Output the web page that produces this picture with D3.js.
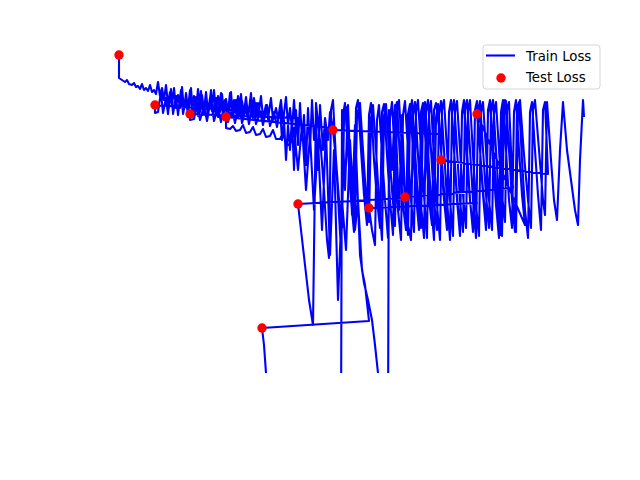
<!DOCTYPE html>
<html>
<head>
<meta charset="utf-8">
<script src="https://cdn.jsdelivr.net/npm/d3@7"></script>
<style>
body{margin:0;background:#fff;}
svg{display:block;font-family:"DejaVu Sans",sans-serif;}
</style>
</head>
<body>
<svg class="chart"></svg>
<script>
// test loss, one point per epoch start (x in iterations)
const testStep=[0,360,710,1070,1430,1790,2140,2500,2860,3220,3580];
const testLoss=[4.45,3.95,3.86,3.83,1.72,2.96,3.70,2.92,3.03,3.40,3.86];

// train loss runs, [iteration, loss]
const train0=[[0,4.45],[0,4.22],[30,4.20],[60,4.18],[80,4.20],[100,4.16],[130,4.15],[150,4.17],[170,4.13],[190,4.14],[210,4.11],[230,4.16],[250,4.10],[270,4.12],[290,4.09],[310,4.15],[330,4.08],[350,4.10],
[370,4.06],[390,4.18],[410,4.04],[430,4.12],[450,4.00],[470,4.15],[490,3.96],[510,4.08],[530,3.94],[550,4.12],[570,3.92],[590,4.05],[610,3.92],[630,4.13],[650,3.90],[670,4.07],[690,3.91],[710,4.10],[730,3.89],[750,4.04],[770,3.90],[790,4.11],[810,3.88],[830,4.05],[850,3.89],[870,4.08],[890,3.88],[910,4.02],[930,3.89],[950,4.10],[970,3.87],[990,4.04],[1010,3.88],[1030,4.06],[1050,3.87],[1070,4.01],[1090,3.88],[1110,4.07],[1130,3.86],[1150,4.00],[1170,3.87],[1190,4.04],[1210,3.86],[1230,3.99],[1250,3.87],[1270,4.03],[1290,3.85],[1310,3.98],[1330,3.86],[1350,4.02],[1370,3.85],[1390,3.97],[1410,3.86],[1430,3.88]];
const train1=[[360,3.95],[360,3.87],[390,3.88],[420,4.08],[440,3.87],[470,4.02],[490,3.86],[520,4.11],[540,3.86],[570,4.04],[590,3.85],[620,4.10],[640,3.86],[670,4.01],[690,3.85],[720,4.12],[740,3.85],[770,4.03],[790,3.84],[820,4.09],[840,3.85],[870,4.00],[890,3.84],[920,4.10],[940,3.84],[970,4.02],[990,3.83],[1020,4.07],[1040,3.84],[1070,3.99],[1090,3.83],[1120,4.08],[1140,3.83],[1170,4.00],[1190,3.82],[1220,4.06],[1240,3.83],[1270,3.99],[1290,3.82],[1320,4.07],[1340,3.82],[1370,3.97],[1390,3.81],[1420,4.04],[1440,3.82],[1470,3.95],[1490,3.81],[1520,4.02],[1540,3.80],[1570,3.92],[1590,3.81],[1620,4.00],[1640,3.78],[1670,4.03],[1690,3.75],[1710,3.92],[1730,3.70],[1750,4.00],[1770,3.72],[1790,3.82]];
const train2=[[710,3.86],[710,3.80],[750,3.81],[780,3.98],[810,3.80],[850,3.94],[880,3.79],[920,4.02],[950,3.79],[990,3.93],[1020,3.78],[1060,4.00],[1090,3.78],[1130,3.92],[1160,3.77],[1200,3.99],[1230,3.77],[1270,3.91],[1300,3.76],[1340,3.97],[1370,3.76],[1410,3.89],[1440,3.75],[1480,3.95],[1510,3.74],[1550,3.88],[1580,3.73],[1610,3.94],[1630,3.60],[1650,3.80],[1670,3.40],[1690,3.75],[1710,3.50],[1730,3.82],[1750,3.30],[1770,3.90],[1790,3.55],[1810,3.97],[1830,3.60],[1850,3.85],[1870,3.35],[1890,3.92],[1910,3.50],[1930,4.00],[1950,3.60],[1970,3.80],[1990,3.30],[2010,3.95],[2040,3.50],[2060,3.82],[2090,3.60],[2110,3.88],[2140,3.72]];
const train3=[[1070,3.83],[1070,3.72],[1110,3.71],[1140,3.74],[1170,3.69],[1210,3.70],[1240,3.75],[1270,3.67],[1310,3.68],[1340,3.73],[1370,3.65],[1410,3.66],[1440,3.71],[1470,3.63],[1510,3.64],[1540,3.70],[1570,3.61],[1610,3.61],[1640,3.67],[1670,3.57],[1710,3.54],[1750,3.72],[1790,3.30],[1830,3.75],[1870,3.10],[1910,3.65],[1950,2.90],[1990,3.60],[2030,2.70],[2070,3.70],[2110,2.45],[2150,3.50],[2190,2.00],[2230,3.00],[2270,2.50],[2310,3.60],[2360,2.70],[2390,3.00],[2430,2.30],[2460,2.15],[2500,1.79]];
const train4=[[1430,1.72],[1450,1.55],[1470,1.27],[1510,0.80],[1810,0.60],[2220,0.70],[2230,3.90],[2260,3.10],[2290,3.95],[2330,2.85],[2360,3.75],[2410,2.45],[2450,2.17],[2490,2.00],[2530,1.80],[2560,1.55],[2590,1.27],[2630,0.80],[2690,0.70],[2700,3.90],[2730,3.30],[2760,3.95],[2800,2.90],[2830,3.85],[2860,3.02]];
const train5=[[1790,2.96],[1820,2.70],[1860,2.35],[1900,2.00],[1940,1.75],[1970,3.97],[2020,3.50],[2050,3.10],[2080,2.60],[2100,2.42],[2120,3.90],[2140,4.00],[2170,3.40],[2200,2.85],[2220,2.50],[2240,3.85],[2260,3.97],[2290,3.50],[2320,3.00],[2350,2.68],[2370,3.92],[2390,4.00],[2420,3.50],[2450,3.05],[2480,2.75],[2500,3.85],[2520,3.97],[2550,3.40],[2580,3.00],[2610,2.72],[2630,3.88],[2650,3.96],[2680,3.45],[2710,3.00],[2740,2.65],[2760,3.90],[2780,3.98],[2810,3.40],[2840,2.95],[2870,2.70],[2890,3.86],[2910,3.96],[2940,3.50],[2970,3.05],[3000,2.70],[3020,3.88],[3040,3.97],[3070,3.50],[3100,3.00],[3130,2.75],[3150,3.90],[3170,3.97],[3190,3.80],[3210,3.66]];
const train6=[[2140,3.70],[2170,3.40],[2200,3.00],[2230,2.72],[2250,3.80],[2270,3.93],[2300,3.50],[2330,3.10],[2360,2.80],[2380,3.85],[2410,3.97],[2440,3.50],[2470,3.05],[2500,2.78],[2520,3.82],[2540,3.95],[2570,3.50],[2600,3.00],[2630,2.60],[2650,3.84],[2670,3.96],[2700,3.50],[2730,3.10],[2760,2.74],[2780,3.87],[2800,4.00],[2830,3.50],[2860,3.00],[2890,2.65],[2910,3.85],[2930,4.00],[2960,3.50],[2990,3.00],[3020,2.72],[3040,3.88],[3060,3.98],[3090,3.50],[3120,3.00],[3150,2.60],[3170,3.82],[3190,3.96],[3220,3.50],[3250,3.10],[3280,2.75],[3300,3.88],[3320,4.00],[3350,3.50],[3380,3.05],[3410,2.68],[3430,3.85],[3450,3.97],[3480,3.40],[3510,3.00],[3540,2.70],[3560,3.00],[3580,2.97]];
const train7=[[2500,2.92],[2530,2.70],[2560,2.55],[2580,3.80],[2600,3.95],[2630,3.45],[2660,3.00],[2690,2.62],[2710,3.82],[2730,3.98],[2760,3.40],[2790,2.90],[2820,2.60],[2840,3.85],[2860,3.99],[2890,3.50],[2920,3.00],[2950,2.68],[2970,3.88],[2990,4.00],[3020,3.50],[3050,3.05],[3080,2.62],[3100,3.86],[3120,3.99],[3150,3.40],[3180,2.95],[3210,2.60],[3230,3.90],[3250,4.00],[3280,3.50],[3310,3.00],[3340,2.64],[3360,3.88],[3380,3.99],[3410,3.50],[3440,3.05],[3470,2.72],[3490,3.88],[3510,4.00],[3540,3.45],[3570,2.95],[3600,2.64],[3620,3.88],[3640,3.98],[3670,3.50],[3700,3.00],[3730,2.70],[3750,3.86],[3770,3.98],[3800,3.50],[3830,3.05],[3860,2.78],[3880,3.90],[3900,3.98],[3920,3.50],[3940,3.12]];
const train8=[[2860,3.03],[2890,2.75],[2920,2.60],[2940,3.85],[2960,3.98],[2990,3.45],[3020,2.95],[3050,2.62],[3070,3.88],[3090,4.00],[3120,3.50],[3150,3.00],[3180,2.70],[3200,3.86],[3220,3.99],[3250,3.50],[3280,3.00],[3310,2.60],[3330,3.88],[3350,4.00],[3380,3.50],[3410,3.00],[3440,2.68],[3460,3.90],[3480,4.00],[3510,3.50],[3540,3.00],[3570,2.62],[3590,3.86],[3610,3.99],[3640,3.50],[3670,3.05],[3700,2.72],[3720,3.88],[3740,4.00],[3770,3.50],[3800,3.00],[3830,2.64],[3850,3.88],[3870,3.99],[3900,3.50],[3930,3.00],[3960,2.68],[3980,3.90],[4000,3.98],[4030,3.40],[4060,2.90],[4090,2.62],[4110,3.88],[4130,3.98],[4160,3.50],[4190,3.05],[4220,2.70],[4240,3.90],[4260,3.98],[4290,3.26]];
const train9=[[3220,3.40],[3250,3.00],[3280,2.70],[3300,3.88],[3320,3.99],[3350,3.50],[3380,3.00],[3410,2.64],[3430,3.88],[3450,4.00],[3480,3.50],[3510,3.00],[3540,2.68],[3560,3.90],[3580,3.99],[3610,3.50],[3640,3.05],[3670,2.70],[3690,3.87],[3710,4.00],[3740,3.40],[3770,2.95],[3800,2.62],[3820,3.88],[3840,4.00],[3870,3.50],[3900,3.00],[3930,2.72],[3950,3.88],[3970,4.00],[4000,3.50],[4030,3.05],[4060,2.75]];
const train10=[[3580,3.86],[3610,3.50],[3640,3.10],[3670,2.75],[3690,3.90],[3710,4.00],[3750,3.40],[3790,2.90],[3820,2.65],[3840,3.88],[3860,4.00],[3900,3.50],[3940,3.00],[3970,2.68],[3990,3.90],[4010,4.00],[4050,3.45],[4090,3.00],[4120,2.72],[4140,3.90],[4160,4.00],[4200,3.50],[4240,3.00],[4260,2.85],[4280,3.98],[4320,3.40],[4350,3.00],[4380,2.80],[4410,3.50],[4440,3.98],[4480,3.50],[4520,3.20],[4560,2.90],[4590,2.75],[4610,3.40],[4640,4.00],[4650,3.83]];

const legendLabels=["Train Loss","Test Loss"];

const trainRuns=[train0,train1,train2,train3,train4,train5,train6,train7,train8,train9,train10];
const trainLoss=[].concat(...trainRuns);

const width=640,height=480;
const svg=d3.select(".chart").attr("width",width).attr("height",height);

const xScale=d3.scaleLinear().domain([0,4650]).range([119,584]);
const yScale=d3.scaleLinear().domain([1.27,4.45]).range([373,55]);

//plot area clip (axes hidden)
svg.append("clipPath").attr("id","plotArea")
	.append("rect")
		.attr("x",60).attr("y",yScale(4.62))
		.attr("width",560).attr("height",yScale(1.27)-yScale(4.62));

const plot=svg.append("g").attr("clip-path","url(#plotArea)");

const line=d3.line().x(function(d){return xScale(d[0]);}).y(function(d){return yScale(d[1]);});
plot.append("path")
		.datum(trainLoss)
		.attr("d",line)
		.style("fill","none")
		.style("stroke","#0000ff")
		.style("stroke-width",2.1)
		.style("stroke-linejoin","round");

plot.append("g").selectAll("circle")
		.data(testStep)
		.enter()
	.append("circle")
		.attr("cx",function(d){return xScale(d);})
		.attr("cy",function(d,i){return yScale(testLoss[i]);})
		.attr("r",4.7)
		.style("fill","#ff0000");

//legend
const legend=svg.append("g").attr("transform","translate(483,45)");
legend.append("rect")
		.attr("width",117).attr("height",44)
		.attr("rx",3)
		.style("fill","#fff").style("fill-opacity",0.8)
		.style("stroke","#d6d6d6").style("stroke-width",1);
legend.append("line")
		.attr("x1",3).attr("x2",32).attr("y1",10.5).attr("y2",10.5)
		.style("stroke","#0000ff").style("stroke-width",2.1);
legend.append("circle")
		.attr("cx",18).attr("cy",33).attr("r",4.7)
		.style("fill","#ff0000");
legend.selectAll("text")
		.data(legendLabels)
		.enter()
	.append("text")
		.attr("x",43)
		.attr("y",function(d,i){return 15.5+i*21;})
		.style("font-size","13.3px")
		.style("fill","#000")
		.text(function(d){return d;});
</script>
</body>
</html>
